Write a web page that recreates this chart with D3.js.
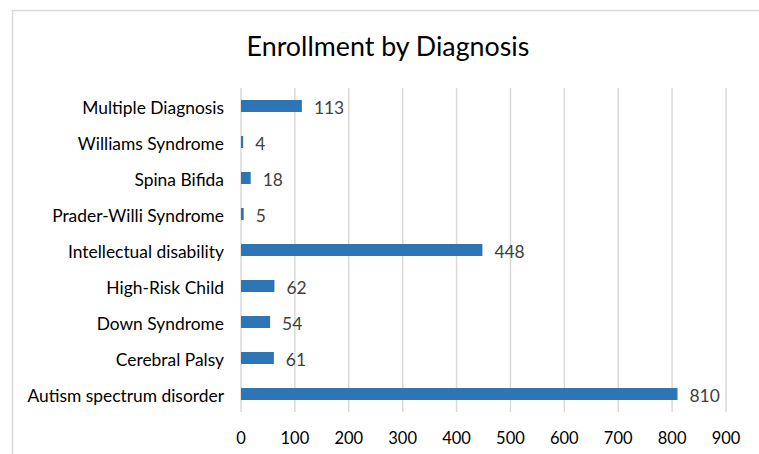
<!DOCTYPE html>
<html>
<head>
<meta charset="utf-8">
<script src="https://cdn.jsdelivr.net/npm/d3@7"></script>
<style>
body { margin: 0; background: #fff; }
text { font-family: Lato, "Open Sans", sans-serif; }
</style>
</head>
<body>
<div id="chart"></div>
<script>
var width = 759;
var height = 454;

// Data
var categories = ["Multiple Diagnosis", "Williams Syndrome", "Spina Bifida", "Prader-Willi Syndrome",
    "Intellectual disability", "High-Risk Child", "Down Syndrome", "Cerebral Palsy", "Autism spectrum disorder"];
var enrollment = [113, 4, 18, 5, 448, 62, 54, 61, 810];
var tickValues = [0, 100, 200, 300, 400, 500, 600, 700, 800, 900];

var svg = d3.select("#chart")
    .append("svg")
    .attr("width", width)
    .attr("height", height);

// chart border
svg.append("rect")
    .attr("x", 12.5)
    .attr("y", 10.5)
    .attr("width", 770)
    .attr("height", 470)
    .attr("fill", "#fff")
    .attr("stroke", "#d9d9d9")
    .attr("stroke-width", 1.5);

svg.append("text")
    .attr("x", 388)
    .attr("y", 56)
    .attr("text-anchor", "middle")
    .attr("font-size", 26.8)
    .attr("fill", "#000")
    .text("Enrollment by Diagnosis");

var x = d3.scaleLinear()
    .domain([0, 900])
    .range([241, 726]);

var y = d3.scaleBand()
    .domain(categories)
    .range([88, 412])
    .paddingInner(0.667)
    .paddingOuter(0.333);

// gridlines
svg.append("g")
    .selectAll("line")
    .data(tickValues)
    .enter().append("line")
        .attr("x1", function(d) { return x(d); })
        .attr("x2", function(d) { return x(d); })
        .attr("y1", 88)
        .attr("y2", 412)
        .attr("stroke", "#d9d9d9")
        .attr("stroke-width", 1.5);

// x tick labels
svg.append("g")
    .selectAll("text")
    .data(tickValues)
    .enter().append("text")
        .attr("x", function(d) { return x(d); })
        .attr("y", 444)
        .attr("text-anchor", "middle")
        .attr("font-size", 16.5)
        .attr("fill", "#000")
        .text(function(d) { return d; });

// category labels
svg.append("g")
    .selectAll("text")
    .data(categories)
    .enter().append("text")
        .attr("x", 224)
        .attr("y", function(d) { return y(d) + y.bandwidth() / 2 + 1.5; })
        .attr("dy", "0.35em")
        .attr("text-anchor", "end")
        .attr("font-size", 17.4)
        .attr("fill", "#000")
        .text(function(d) { return d; });

// bars
svg.append("g")
    .selectAll("rect")
    .data(enrollment)
    .enter().append("rect")
        .attr("x", x(0))
        .attr("y", function(d, i) { return y(categories[i]); })
        .attr("width", function(d) { return x(d) - x(0); })
        .attr("height", y.bandwidth())
        .attr("fill", "#2e75b6");

// value labels
svg.append("g")
    .selectAll("text")
    .data(enrollment)
    .enter().append("text")
        .attr("x", function(d) { return x(d) + 12; })
        .attr("y", function(d, i) { return y(categories[i]) + y.bandwidth() / 2 + 1.5; })
        .attr("dy", "0.35em")
        .attr("font-size", 17.4)
        .attr("fill", "#404040")
        .text(function(d) { return d; });
</script>
</body>
</html>
